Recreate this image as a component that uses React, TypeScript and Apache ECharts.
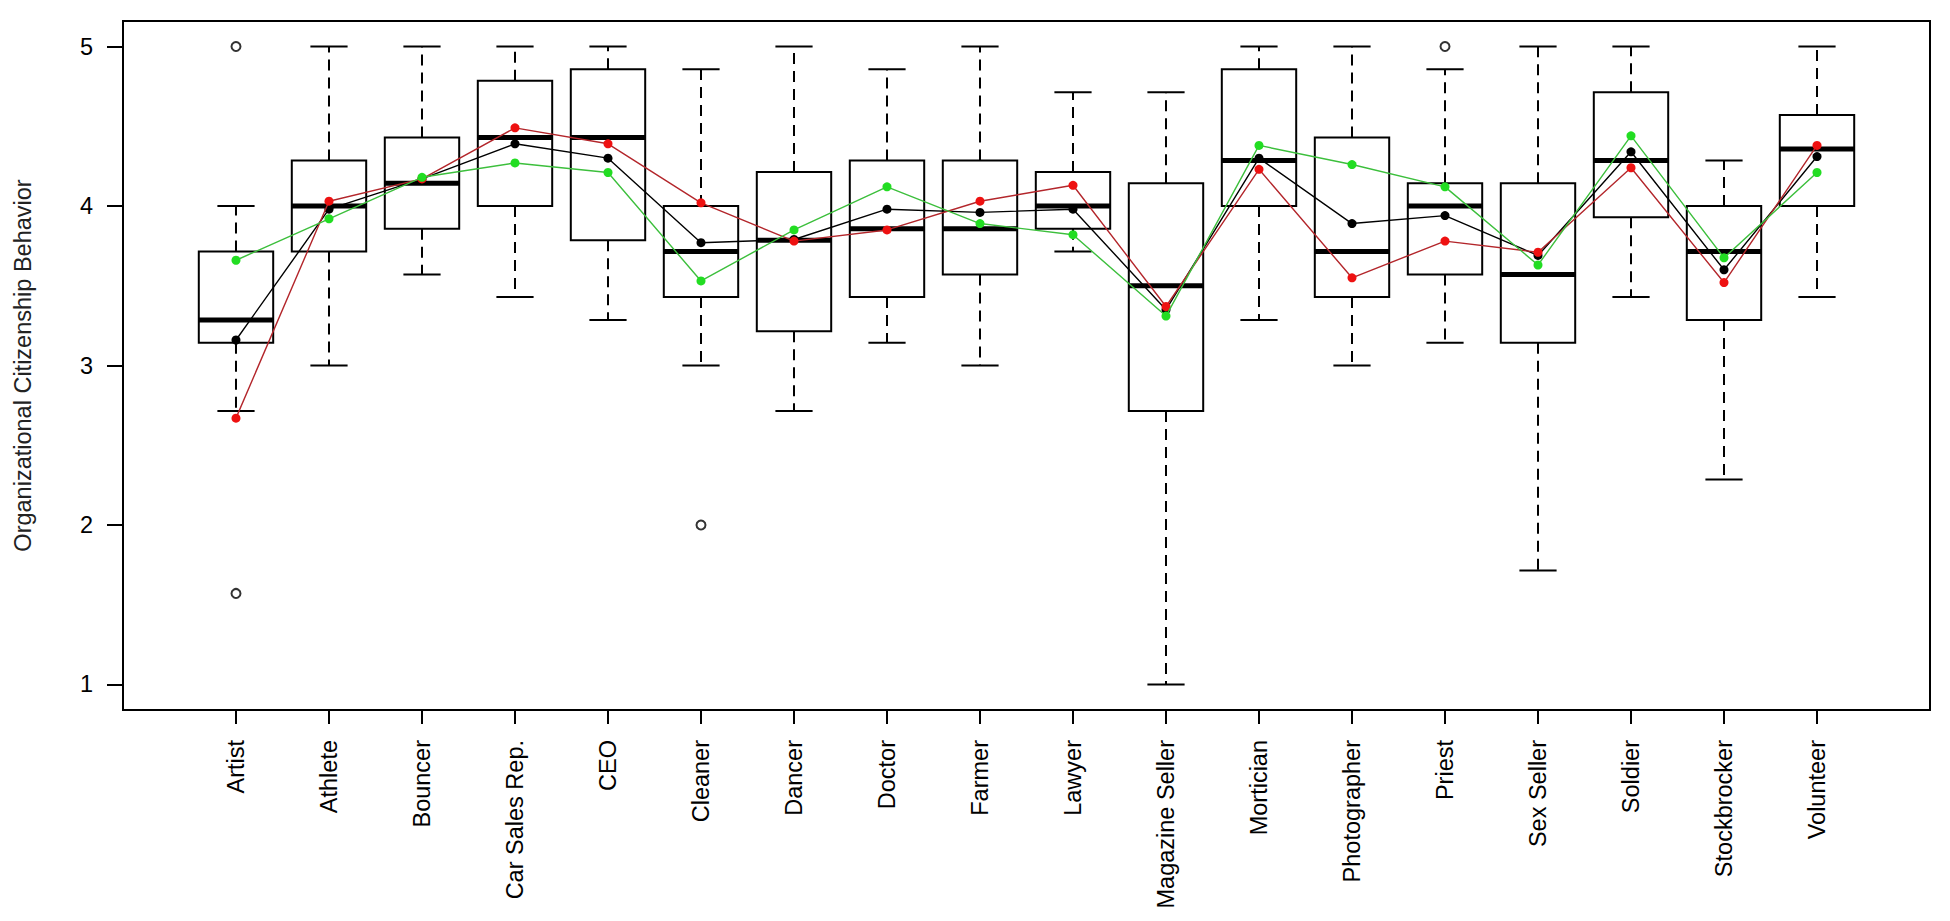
import React, { useEffect, useRef } from "react";
import * as echarts from "echarts";

const categories = [
  "Artist", "Athlete", "Bouncer", "Car Sales Rep.", "CEO", "Cleaner", "Dancer", "Doctor", "Farmer",
  "Lawyer", "Magazine Seller", "Mortician", "Photographer", "Priest", "Sex Seller", "Soldier",
  "Stockbrocker", "Volunteer",
];

// five-number summaries: lower whisker, Q1, median, Q3, upper whisker
const whiskerLow = [2.714, 3.0, 3.571, 3.429, 3.286, 3.0, 2.714, 3.143, 3.0, 3.714, 1.0, 3.286, 3.0, 3.143, 1.714, 3.429, 2.286, 3.429];
const q1 = [3.143, 3.714, 3.857, 4.0, 3.786, 3.429, 3.214, 3.429, 3.571, 3.857, 2.714, 4.0, 3.429, 3.571, 3.143, 3.929, 3.286, 4.0];
const medians = [3.286, 4.0, 4.143, 4.429, 4.429, 3.714, 3.786, 3.857, 3.857, 4.0, 3.5, 4.286, 3.714, 4.0, 3.571, 4.286, 3.714, 4.357];
const q3 = [3.714, 4.286, 4.429, 4.786, 4.857, 4.0, 4.214, 4.286, 4.286, 4.214, 4.143, 4.857, 4.429, 4.143, 4.143, 4.714, 4.0, 4.571];
const whiskerHigh = [4.0, 5.0, 5.0, 5.0, 5.0, 4.857, 5.0, 4.857, 5.0, 4.714, 4.714, 5.0, 5.0, 4.857, 5.0, 5.0, 4.286, 5.0];

// outliers: [category index (1-based), value]
const outliers = [
  [1, 5.0],
  [1, 1.571],
  [6, 2.0],
  [14, 5.0],
];

// group means
const blackMeans = [3.16, 3.98, 4.17, 4.39, 4.30, 3.77, 3.79, 3.98, 3.96, 3.98, 3.35, 4.30, 3.89, 3.94, 3.69, 4.34, 3.60, 4.31];
const redMeans = [2.67, 4.03, 4.17, 4.49, 4.39, 4.02, 3.78, 3.85, 4.03, 4.13, 3.37, 4.23, 3.55, 3.78, 3.71, 4.24, 3.52, 4.38];
const greenMeans = [3.66, 3.92, 4.18, 4.27, 4.21, 3.53, 3.85, 4.12, 3.89, 3.82, 3.31, 4.38, 4.26, 4.12, 3.63, 4.44, 3.675, 4.21];

const yTicks = [1, 2, 3, 4, 5];
const yTitle = "Organizational Citizenship Behavior";

const FONT = "'Liberation Sans', Arial, sans-serif";
const FS = 23.5;

export default function App() {
  const ref = useRef<HTMLDivElement>(null);

  useEffect(() => {
    document.body.style.margin = "0";
    if (!ref.current) return;
    const chart = echarts.init(ref.current, undefined, { renderer: "svg" });

    const xPos = categories.map((_, i) => i + 1);
    const boxData = xPos.map((x, i) => [x, whiskerLow[i], q1[i], medians[i], q3[i], whiskerHigh[i]]);

    const renderBox = (params: any, api: any) => {
      const x = api.value(0);
      const lo = api.coord([x, api.value(1)]);
      const b1 = api.coord([x, api.value(2)]);
      const md = api.coord([x, api.value(3)]);
      const b3 = api.coord([x, api.value(4)]);
      const hi = api.coord([x, api.value(5)]);
      const w = api.size([0.8, 0])[0];
      const cap = api.size([0.4, 0])[0];
      const cx = md[0];
      const left = cx - w / 2;
      const stroke = "#000";
      return {
        type: "group",
        children: [
          {
            type: "line",
            shape: { x1: cx, y1: b3[1], x2: cx, y2: hi[1] },
            style: { stroke, lineWidth: 2, lineDash: [11, 7] },
          },
          {
            type: "line",
            shape: { x1: cx, y1: b1[1], x2: cx, y2: lo[1] },
            style: { stroke, lineWidth: 2, lineDash: [11, 7] },
          },
          {
            type: "line",
            shape: { x1: cx - cap / 2, y1: hi[1], x2: cx + cap / 2, y2: hi[1] },
            style: { stroke, lineWidth: 2 },
          },
          {
            type: "line",
            shape: { x1: cx - cap / 2, y1: lo[1], x2: cx + cap / 2, y2: lo[1] },
            style: { stroke, lineWidth: 2 },
          },
          {
            type: "rect",
            shape: { x: left, y: b3[1], width: w, height: b1[1] - b3[1] },
            style: { fill: "#fff", stroke, lineWidth: 2 },
          },
          {
            type: "line",
            shape: { x1: left, y1: md[1], x2: left + w, y2: md[1] },
            style: { stroke, lineWidth: 5 },
          },
        ],
      };
    };

    const meanSeries = (data: number[], lineColor: string, pointColor: string, z: number) => ({
      type: "line",
      data: data.map((v, i) => [i + 1, v]),
      symbol: "circle",
      symbolSize: 9,
      z,
      lineStyle: { color: lineColor, width: 1.4 },
      itemStyle: { color: pointColor },
      emphasis: { disabled: true },
    });

    chart.setOption({
      animation: false,
      backgroundColor: "#fff",
      grid: {
        left: 123,
        right: 20,
        top: 21,
        bottom: 211,
        show: true,
        borderColor: "#000",
        borderWidth: 2,
        backgroundColor: "transparent",
      },
      xAxis: {
        type: "value",
        min: -0.215,
        max: 19.215,
        splitLine: { show: false },
        axisLine: { show: true, onZero: false, lineStyle: { color: "#000", width: 2 } },
        axisTick: {
          show: true,
          customValues: xPos,
          length: 14,
          lineStyle: { color: "#000", width: 2 },
        },
        axisLabel: {
          customValues: xPos,
          rotate: 90,
          margin: 30,
          fontSize: FS,
          fontFamily: FONT,
          color: "#000",
          formatter: (v: number) => categories[Math.round(v) - 1] ?? "",
        },
      },
      yAxis: {
        type: "value",
        min: 0.84,
        max: 5.16,
        splitLine: { show: false },
        axisLine: { show: true, onZero: false, lineStyle: { color: "#000", width: 2 } },
        axisTick: {
          show: true,
          customValues: yTicks,
          length: 16,
          lineStyle: { color: "#000", width: 2 },
        },
        axisLabel: {
          customValues: yTicks,
          margin: 30,
          fontSize: FS,
          fontFamily: FONT,
          color: "#000",
        },
        name: yTitle,
        nameLocation: "middle",
        nameGap: 88,
        nameTextStyle: { fontSize: FS, fontFamily: FONT, color: "#222" },
      },
      series: [
        {
          type: "custom",
          renderItem: renderBox,
          data: boxData,
          encode: { x: 0, y: [1, 2, 3, 4, 5] },
          z: 2,
          silent: true,
        },
        {
          type: "scatter",
          data: outliers,
          symbol: "emptyCircle",
          symbolSize: 9,
          itemStyle: { color: "#000", borderColor: "#000", borderWidth: 1.6 },
          z: 3,
          silent: true,
        },
        meanSeries(blackMeans, "#000", "#000", 4),
        meanSeries(redMeans, "#b3262b", "#ee1111", 5),
        meanSeries(greenMeans, "#3cbf3c", "#22dd22", 6),
      ],
    });

    return () => chart.dispose();
  }, []);

  return <div ref={ref} style={{ width: 1950, height: 921 }} />;
}
